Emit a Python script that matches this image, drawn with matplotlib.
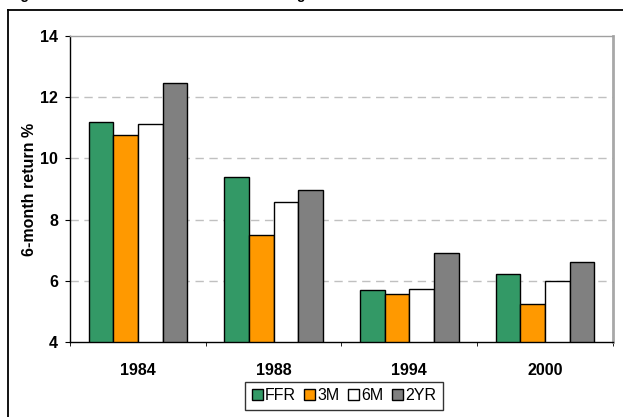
import matplotlib
matplotlib.use("Agg")
import matplotlib.pyplot as plt
from matplotlib.lines import Line2D
import numpy as np

plt.rcParams['font.family'] = ['Liberation Sans', 'DejaVu Sans']

years = ["1984", "1988", "1994", "2000"]
series_names = ["FFR", "3M", "6M", "2YR"]
ffr = [11.18, 9.38, 5.70, 6.22]
m3 = [10.75, 7.49, 5.58, 5.25]
m6 = [11.13, 8.58, 5.74, 5.98]
yr2 = [12.47, 8.98, 6.91, 6.62]
colors = ["#339966", "#FF9900", "#FFFFFF", "#808080"]
yticks = [4, 6, 8, 10, 12, 14]

W, H = 623, 417
fig = plt.figure(figsize=(W / 100, H / 100), dpi=100)

# outer chart frame (open to the right and bottom)
fig.add_artist(Line2D([8 / W, 1.0], [1 - 10 / H, 1 - 10 / H], color="black", lw=1.3))
fig.add_artist(Line2D([8 / W, 8 / W], [0.0, 1 - 10 / H], color="black", lw=1.3))

# title line sitting just above the frame
fig.text(8 / W, 1 + 1.5 / H, "Figure 6: Returns when short rates are rising",
         fontsize=10, fontweight="bold", ha="left", va="baseline")

ax = fig.add_axes([70 / W, 1 - 342 / H, (613 - 70) / W, (342 - 36) / H])

n = len(series_names)
gap = 1.5
bw = 1.0 / (n + gap)
x = np.arange(len(years))
for i, (name, vals, c) in enumerate(zip(series_names, [ffr, m3, m6, yr2], colors)):
    offs = (i - (n - 1) / 2) * bw
    ax.bar(x + offs, np.array(vals) - 4, bottom=4, width=bw, color=c,
           edgecolor="black", linewidth=1.0, label=name, zorder=3)

ax.set_xlim(-0.5, len(years) - 0.5)
ax.set_ylim(4, 14)
ax.set_yticks(yticks)
ax.set_yticklabels([str(t) for t in yticks], fontsize=11.5, fontweight="bold")
ax.set_xticks(x)
ax.set_xticklabels(years, fontsize=11.5, fontweight="bold")
ax.tick_params(axis="x", length=0, pad=15)
ax.set_xticks(np.arange(-0.5, len(years), 1.0), minor=True)
ax.tick_params(axis="x", which="minor", length=3, direction="out", color="black")
ax.tick_params(axis="y", length=3.5, direction="out", color="black", pad=5)

for t in [6, 8, 10, 12]:
    ax.axhline(t, color="#C0C0C0", lw=1.0, ls=(0, (6, 4)), zorder=1)

ax.spines["left"].set_color("black")
ax.spines["bottom"].set_color("black")
ax.spines["top"].set_color("#A0A0A0")
ax.spines["right"].set_color("#A8A8A8")
ax.spines["right"].set_linewidth(2.0)
for s in ["left", "bottom", "top"]:
    ax.spines[s].set_linewidth(1.0)

ax.set_ylabel("6-month return %", fontsize=11.5, fontweight="bold", labelpad=2)

leg = ax.legend(loc="upper center", bbox_to_anchor=(0.5 * (246 + 442) / W, 1 - 382 / H),
                bbox_transform=fig.transFigure, ncol=4, frameon=True, fancybox=False,
                fontsize=11.5, handlelength=0.7, handleheight=0.7, handletextpad=0.15,
                columnspacing=0.5, borderpad=0.4, borderaxespad=0)
leg.get_frame().set_edgecolor("black")
leg.get_frame().set_linewidth(1.0)

fig.savefig("out.png", dpi=100)
